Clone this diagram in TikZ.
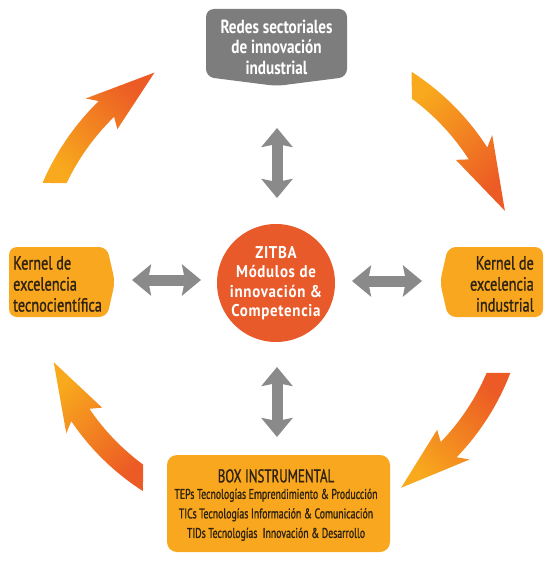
\documentclass[tikz,border=0pt]{standalone}
\usepackage{fontspec}
\setmainfont{PT Sans}
\newfontfamily\condm{PT Sans}[FakeStretch=0.7,FakeBold=1]
\newfontfamily\condw{PT Sans}[FakeStretch=0.75,FakeBold=1]
\newfontfamily\condb{PT Sans Bold}[FakeStretch=0.8]
\newfontfamily\circf{PT Sans Bold}[FakeStretch=0.88,LetterSpace=4]
\usetikzlibrary{arrows.meta}
\definecolor{boxorange}{HTML}{F8A71E}
\definecolor{boxgrey}{HTML}{7D7D7D}
\definecolor{arrgrey}{HTML}{8A8A8A}
\definecolor{circred}{HTML}{E95A2A}
\definecolor{yelcol}{HTML}{F8A91D}
\definecolor{redcol}{HTML}{EC5A25}
\definecolor{txtdark}{HTML}{2E2210}
\begin{document}
\begin{tikzpicture}[x=1pt,y=1pt,
  greyarrow/.style={draw=arrgrey, line width=11pt,
    {Stealth[width=31pt,length=19pt,inset=3pt]}-{Stealth[width=31pt,length=19pt,inset=3pt]}},
  shapebox/.style={rounded corners=8pt},
  boxtext/.style={text=txtdark, font=\condw\fontsize{19}{21}\selectfont, inner sep=0pt},
]
\useasboundingbox (0,0) rectangle (551,-564);

% curved gradient arrows: outer tail angle / inner tail angle / tip angle / radius / shading angle (yellow -> red)
\foreach \so/\si/\e/\R/\ang in {156.8/154.5/120/243/-43.6, 57.3/53.6/17.5/240/-137.7,
                                -21/-23.1/-58.6/240/-43.9, 237.4/233.8/199.6/236/-135.9}{
  \pgfmathsetmacro\s{(\so+\si)/2}
  \pgfmathsetmacro\j{\s-0.6*(\s-\e)}
  \pgfmathsetmacro\b{\s-0.555*(\s-\e)}
  \pgfmathsetmacro\Ro{\R+11}
  \pgfmathsetmacro\Ri{\R-11}
  \pgfmathsetmacro\Rbo{\R+22}
  \pgfmathsetmacro\Rbi{\R-22}
  \begin{scope}[shift={(276,-283)}]
  \shade[bottom color=yelcol, top color=redcol, shading angle=\ang]
    (\so:\Ro) arc[start angle=\so, end angle=\j, radius=\Ro] -- (\b:\Rbo) -- (\e:\R)
    -- (\b:\Rbi) -- (\j:\Ri) arc[start angle=\j, end angle=\si, radius=\Ri] -- cycle;
  \end{scope}
}

% top grey box
\fill[boxgrey, shapebox] (206,-9) -- (347,-9) -- (347,-77) -- (276.5,-86) -- (206,-77) -- cycle;
\node[text=white, font=\condb\fontsize{19}{20.5}\selectfont, align=center, inner sep=0pt] (redes) at (276.5,-47) {Redes sectoriales\\de innovación\\industrial};

% left box
\fill[boxorange, shapebox] (9,-247) -- (107,-247) -- (115,-282) -- (107,-317) -- (9,-317) -- cycle;
\node[boxtext, anchor=west, align=left] (kleft) at (13,-284) {Kernel de\\excelencia\\tecnocientífica};

% right box
\fill[boxorange, shapebox] (543,-247) -- (448,-247) -- (440,-282) -- (448,-317) -- (543,-317) -- cycle;
\node[boxtext, anchor=east, align=right] (kright) at (534,-284) {Kernel de\\excelencia\\industrial};

% centre circle
\node[circle, fill=circred, minimum size=116pt, inner sep=0pt, text=white, align=center,
  font=\circf\fontsize{17}{19.5}\selectfont] (zitba) at (276,-283)
  {ZITBA\\Módulos de\\innovación \&\\Competencia};

% bottom box
\node[fill=boxorange, rounded corners=10pt, minimum width=223pt, minimum height=97pt] (box) at (278.5,-503.5) {};
\node[text=txtdark, align=center, inner sep=0pt, font=\condm\fontsize{14}{19.5}\selectfont] (boxtxt) at (276,-505)
  {{\fontsize{18.5}{19.5}\selectfont BOX INSTRUMENTAL}\\[-3pt]
   TEPs Tecnologías Emprendimiento \& Producción\\
   TICs Tecnologías Información \& Comunicación\\
   TIDs Tecnologías\ \ Innovación \& Desarrollo};

% grey double arrows
\coordinate (t1) at (277,-128); \coordinate (t2) at (277,-198);
\coordinate (b1) at (277,-367); \coordinate (b2) at (277,-437);
\coordinate (l1) at (132,-280); \coordinate (l2) at (201,-280);
\coordinate (r1) at (352,-281); \coordinate (r2) at (422,-281);
\draw[greyarrow] (t1) -- (t2);
\draw[greyarrow] (b1) -- (b2);
\draw[greyarrow] (l1) -- (l2);
\draw[greyarrow] (r1) -- (r2);
\end{tikzpicture}
\end{document}
